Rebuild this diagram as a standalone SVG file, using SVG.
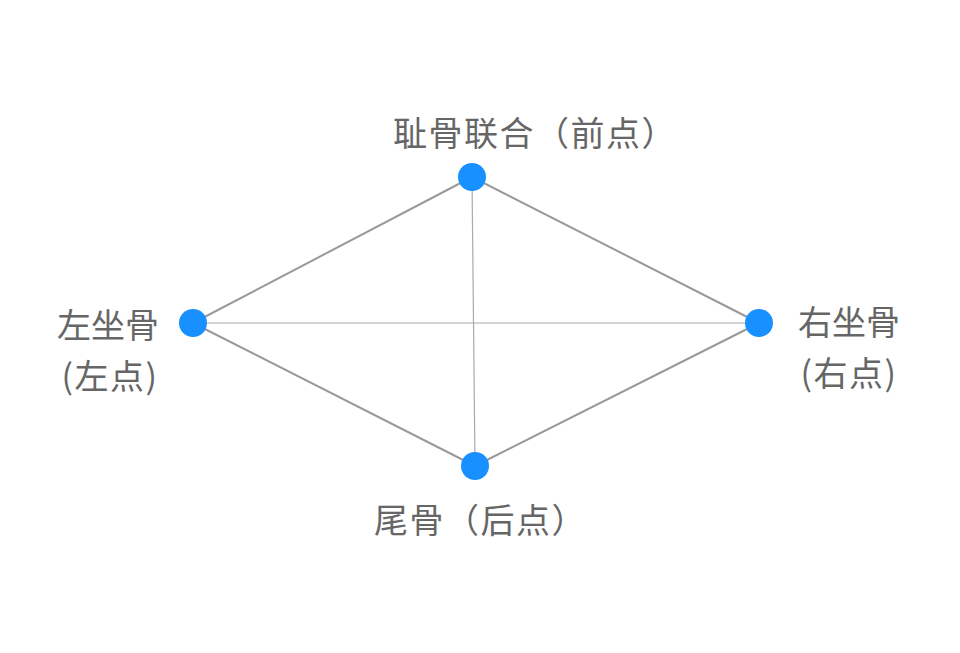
<svg xmlns="http://www.w3.org/2000/svg" width="960" height="653" viewBox="0 0 960 653">
<style>
.lbl{font-family:"Noto Sans CJK SC","Noto Sans",sans-serif;font-size:34px;fill:#666}
.wide{letter-spacing:1.5px}
.edge{stroke:#999;stroke-width:2;fill:none}
.diag{stroke:#aaa;stroke-width:1.2;fill:none}
.dot{fill:#1890ff}
</style>
<rect width="960" height="653" fill="#fff"/>
<g id="connectors">
<line class="edge" x1="472" y1="177" x2="193" y2="323"/>
<line class="edge" x1="472" y1="177" x2="759" y2="323"/>
<line class="edge" x1="193" y1="323" x2="475" y2="466"/>
<line class="edge" x1="759" y1="323" x2="475" y2="466"/>
<line class="diag" x1="193" y1="323" x2="759" y2="323"/>
<line class="diag" x1="472" y1="177" x2="475" y2="466"/>
</g>
<g id="node-top">
<circle class="dot" cx="472" cy="177" r="14"/>
<text class="lbl wide" x="393" y="146">耻骨联合（前点）</text>
</g>
<g id="node-left">
<circle class="dot" cx="193" cy="323" r="14"/>
<text class="lbl" x="108" y="338" text-anchor="middle">左坐骨</text>
<text class="lbl wide" x="110" y="389" text-anchor="middle">(左点)</text>
</g>
<g id="node-right">
<circle class="dot" cx="759" cy="323" r="14"/>
<text class="lbl" x="849" y="335" text-anchor="middle">右坐骨</text>
<text class="lbl wide" x="849" y="386" text-anchor="middle">(右点)</text>
</g>
<g id="node-bottom">
<circle class="dot" cx="475" cy="466" r="14"/>
<text class="lbl wide" x="374" y="533">尾骨（后点）</text>
</g>
</svg>
